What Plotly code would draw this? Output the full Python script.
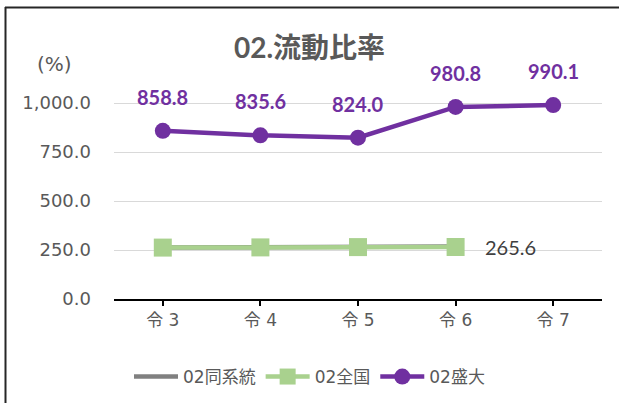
import plotly.graph_objects as go

categories = ["令3", "令4", "令5", "令6", "令7"]
tick_text = ["令 3", "令 4", "令 5", "令 6", "令 7"]
seibi = [858.8, 835.6, 824.0, 980.8, 990.1]
zenkoku = [262.5, 263.5, 265.0, 265.6]
doukeitou = [262.5, 263.5, 266.0, 268.5]
y_ticks = [0, 250, 500, 750, 1000]

PURPLE = "#7030A0"
GREEN = "#A9D18E"
GRAY = "#808080"
TXT = "#595959"
LBL = "Lato, Noto Sans CJK JP, sans-serif"
AX = "DejaVu Sans, Noto Sans CJK JP, sans-serif"

W, H = 619, 403
L, R, T, B = 114, 17, 64, 104
pw, ph = W - L - R, H - T - B

def px(xp):
    return (xp - L) / pw

def py(yp):
    return (H - B - yp) / ph

fig = go.Figure()
fig.add_trace(go.Scatter(x=categories[:4], y=doukeitou, name="02同系統", mode="lines",
                         line=dict(color=GRAY, width=4.5)))
fig.add_trace(go.Scatter(x=categories[:4], y=zenkoku, name="02全国", mode="lines+markers",
                         line=dict(color=GREEN, width=4.5),
                         marker=dict(symbol="square", size=18, color=GREEN)))
fig.add_trace(go.Scatter(x=categories, y=seibi, name="02盛大", mode="lines+markers",
                         line=dict(color=PURPLE, width=4.5),
                         marker=dict(symbol="circle", size=16, color=PURPLE)))

for c, v in zip(categories, seibi):
    fig.add_annotation(x=c, y=v, text=f"{v:.1f}", showarrow=False, yshift=34,
                       font=dict(family=LBL, size=20, color=PURPLE, weight="bold"))

fig.add_annotation(x=categories[3], y=zenkoku[3], text=f"{zenkoku[3]:.1f}", showarrow=False,
                   xshift=55, font=dict(family=LBL, size=20, color="#404040"))

fig.add_annotation(x=px(54), y=py(64), xref="paper", yref="paper", text="(%)",
                   xanchor="center", yanchor="middle",
                   showarrow=False, font=dict(family=AX, size=20, color=TXT))

# chart border (left and top edges visible)
fig.add_shape(type="line", xref="paper", yref="paper", x0=px(5.5), x1=px(5.5), y0=py(7), y1=py(403),
              line=dict(color="#262626", width=2))
fig.add_shape(type="line", xref="paper", yref="paper", x0=px(5), x1=px(619), y0=py(7.5), y1=py(7.5),
              line=dict(color="#262626", width=2))

fig.update_layout(
    width=W, height=H,
    margin=dict(l=L, r=R, t=T, b=B),
    paper_bgcolor="white", plot_bgcolor="white",
    font=dict(family=AX, color=TXT),
    title=dict(text="<b>02.流動比率</b>", x=0.5, xref="container", xanchor="center",
               y=1 - 48 / H, yref="container", yanchor="middle",
               font=dict(family=LBL, size=28, color=TXT)),
    showlegend=True,
    legend=dict(orientation="h", x=0.5, xanchor="center", xref="container",
                y=1 - 377 / H, yref="container", yanchor="middle",
                font=dict(family=AX, size=17, color=TXT), itemwidth=44,
                traceorder="normal"),
    xaxis=dict(type="category", categoryorder="array", categoryarray=categories,
               tickvals=categories, ticktext=tick_text,
               range=[-0.5, 4.5], showgrid=False, showline=True, linecolor="black", linewidth=2,
               ticks="outside", ticklen=5, tickwidth=1.5, tickcolor="black",
               tickfont=dict(family=AX, size=17, color=TXT), fixedrange=True),
    xaxis2=dict(type="category", categoryorder="array", categoryarray=categories,
                range=[-0.5, 4.5], overlaying="x", anchor="y", side="bottom",
                showgrid=False, showline=False, showticklabels=False,
                tickvals=categories,
                ticks="inside", ticklen=4, tickwidth=1.5, tickcolor="black"),
    yaxis=dict(range=[0, 1200], tickvals=y_ticks, tickformat=",.1f",
               showgrid=True, gridcolor="#D9D9D9", gridwidth=1, zeroline=False,
               showline=False, ticks="", ticklabelstandoff=22,
               tickfont=dict(family=AX, size=18, color=TXT)),
)

fig.write_html("out.html", config={"displayModeBar": False},
               post_script="document.body.style.margin='0';")
